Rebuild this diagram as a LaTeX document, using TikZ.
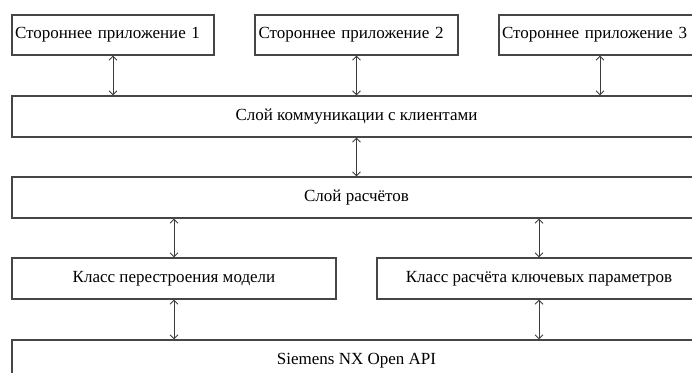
\documentclass[tikz,border=0pt]{standalone}
\usepackage{fontspec}
\setmainfont{Liberation Serif}
\usetikzlibrary{arrows.meta, positioning}
\definecolor{lineGray}{RGB}{70, 70, 70}
\definecolor{arrowGray}{RGB}{60, 60, 60}

\begin{document}
\begin{tikzpicture}[
    x=1pt, y=-1pt,
    appbox/.style={
        rectangle,
        draw=lineGray,
        line width=1.2pt,
        minimum width=202pt,
        minimum height=40pt,
        text width=196pt,
        inner xsep=2pt,
        align=left,
        font=\fontsize{17}{20}\selectfont
    },
    layerbox/.style={
        rectangle,
        draw=lineGray,
        line width=1.2pt,
        minimum width=689pt,
        minimum height=41pt,
        align=center,
        font=\fontsize{17}{20}\selectfont
    },
    classbox/.style={
        rectangle,
        draw=lineGray,
        line width=1.2pt,
        minimum width=324pt,
        minimum height=41pt,
        align=center,
        font=\fontsize{17}{20}\selectfont
    },
    link/.style={
        {Straight Barb[length=4pt,width=8pt]}-{Straight Barb[length=4pt,width=8pt]},
        line width=0.9pt,
        color=arrowGray
    }
]
\clip (0,0) rectangle (692,372);

% Third-party applications
\node[appbox] (app1) at (113,35) {Стороннее приложение 1};
\node[appbox, minimum width=203pt] (app2) at (356.5,35) {Стороннее приложение 2};
\node[appbox] (app3) at (600,35) {Стороннее приложение 3};

% Layers
\node[layerbox] (clients) at (356.5,116.5) {Слой коммуникации с клиентами};
\node[layerbox] (calc) at (356.5,197.5) {Слой расчётов};

% Classes
\node[classbox] (rebuild) at (174,278.5) {Класс перестроения модели};
\node[classbox] (keypar) at (539,278.5) {Класс расчёта ключевых параметров};

% API
\node[layerbox] (nxapi) at (356.5,360.5) {Siemens NX Open API};

% Arrows
\draw[link] (app1.south) -- (app1.south |- clients.north);
\draw[link] (app2.south) -- (app2.south |- clients.north);
\draw[link] (app3.south) -- (app3.south |- clients.north);
\draw[link] (clients.south) -- (calc.north);
\draw[link] (calc.south -| rebuild.north) -- (rebuild.north);
\draw[link] (calc.south -| keypar.north) -- (keypar.north);
\draw[link] (rebuild.south) -- (rebuild.south |- nxapi.north);
\draw[link] (keypar.south) -- (keypar.south |- nxapi.north);

\end{tikzpicture}
\end{document}
